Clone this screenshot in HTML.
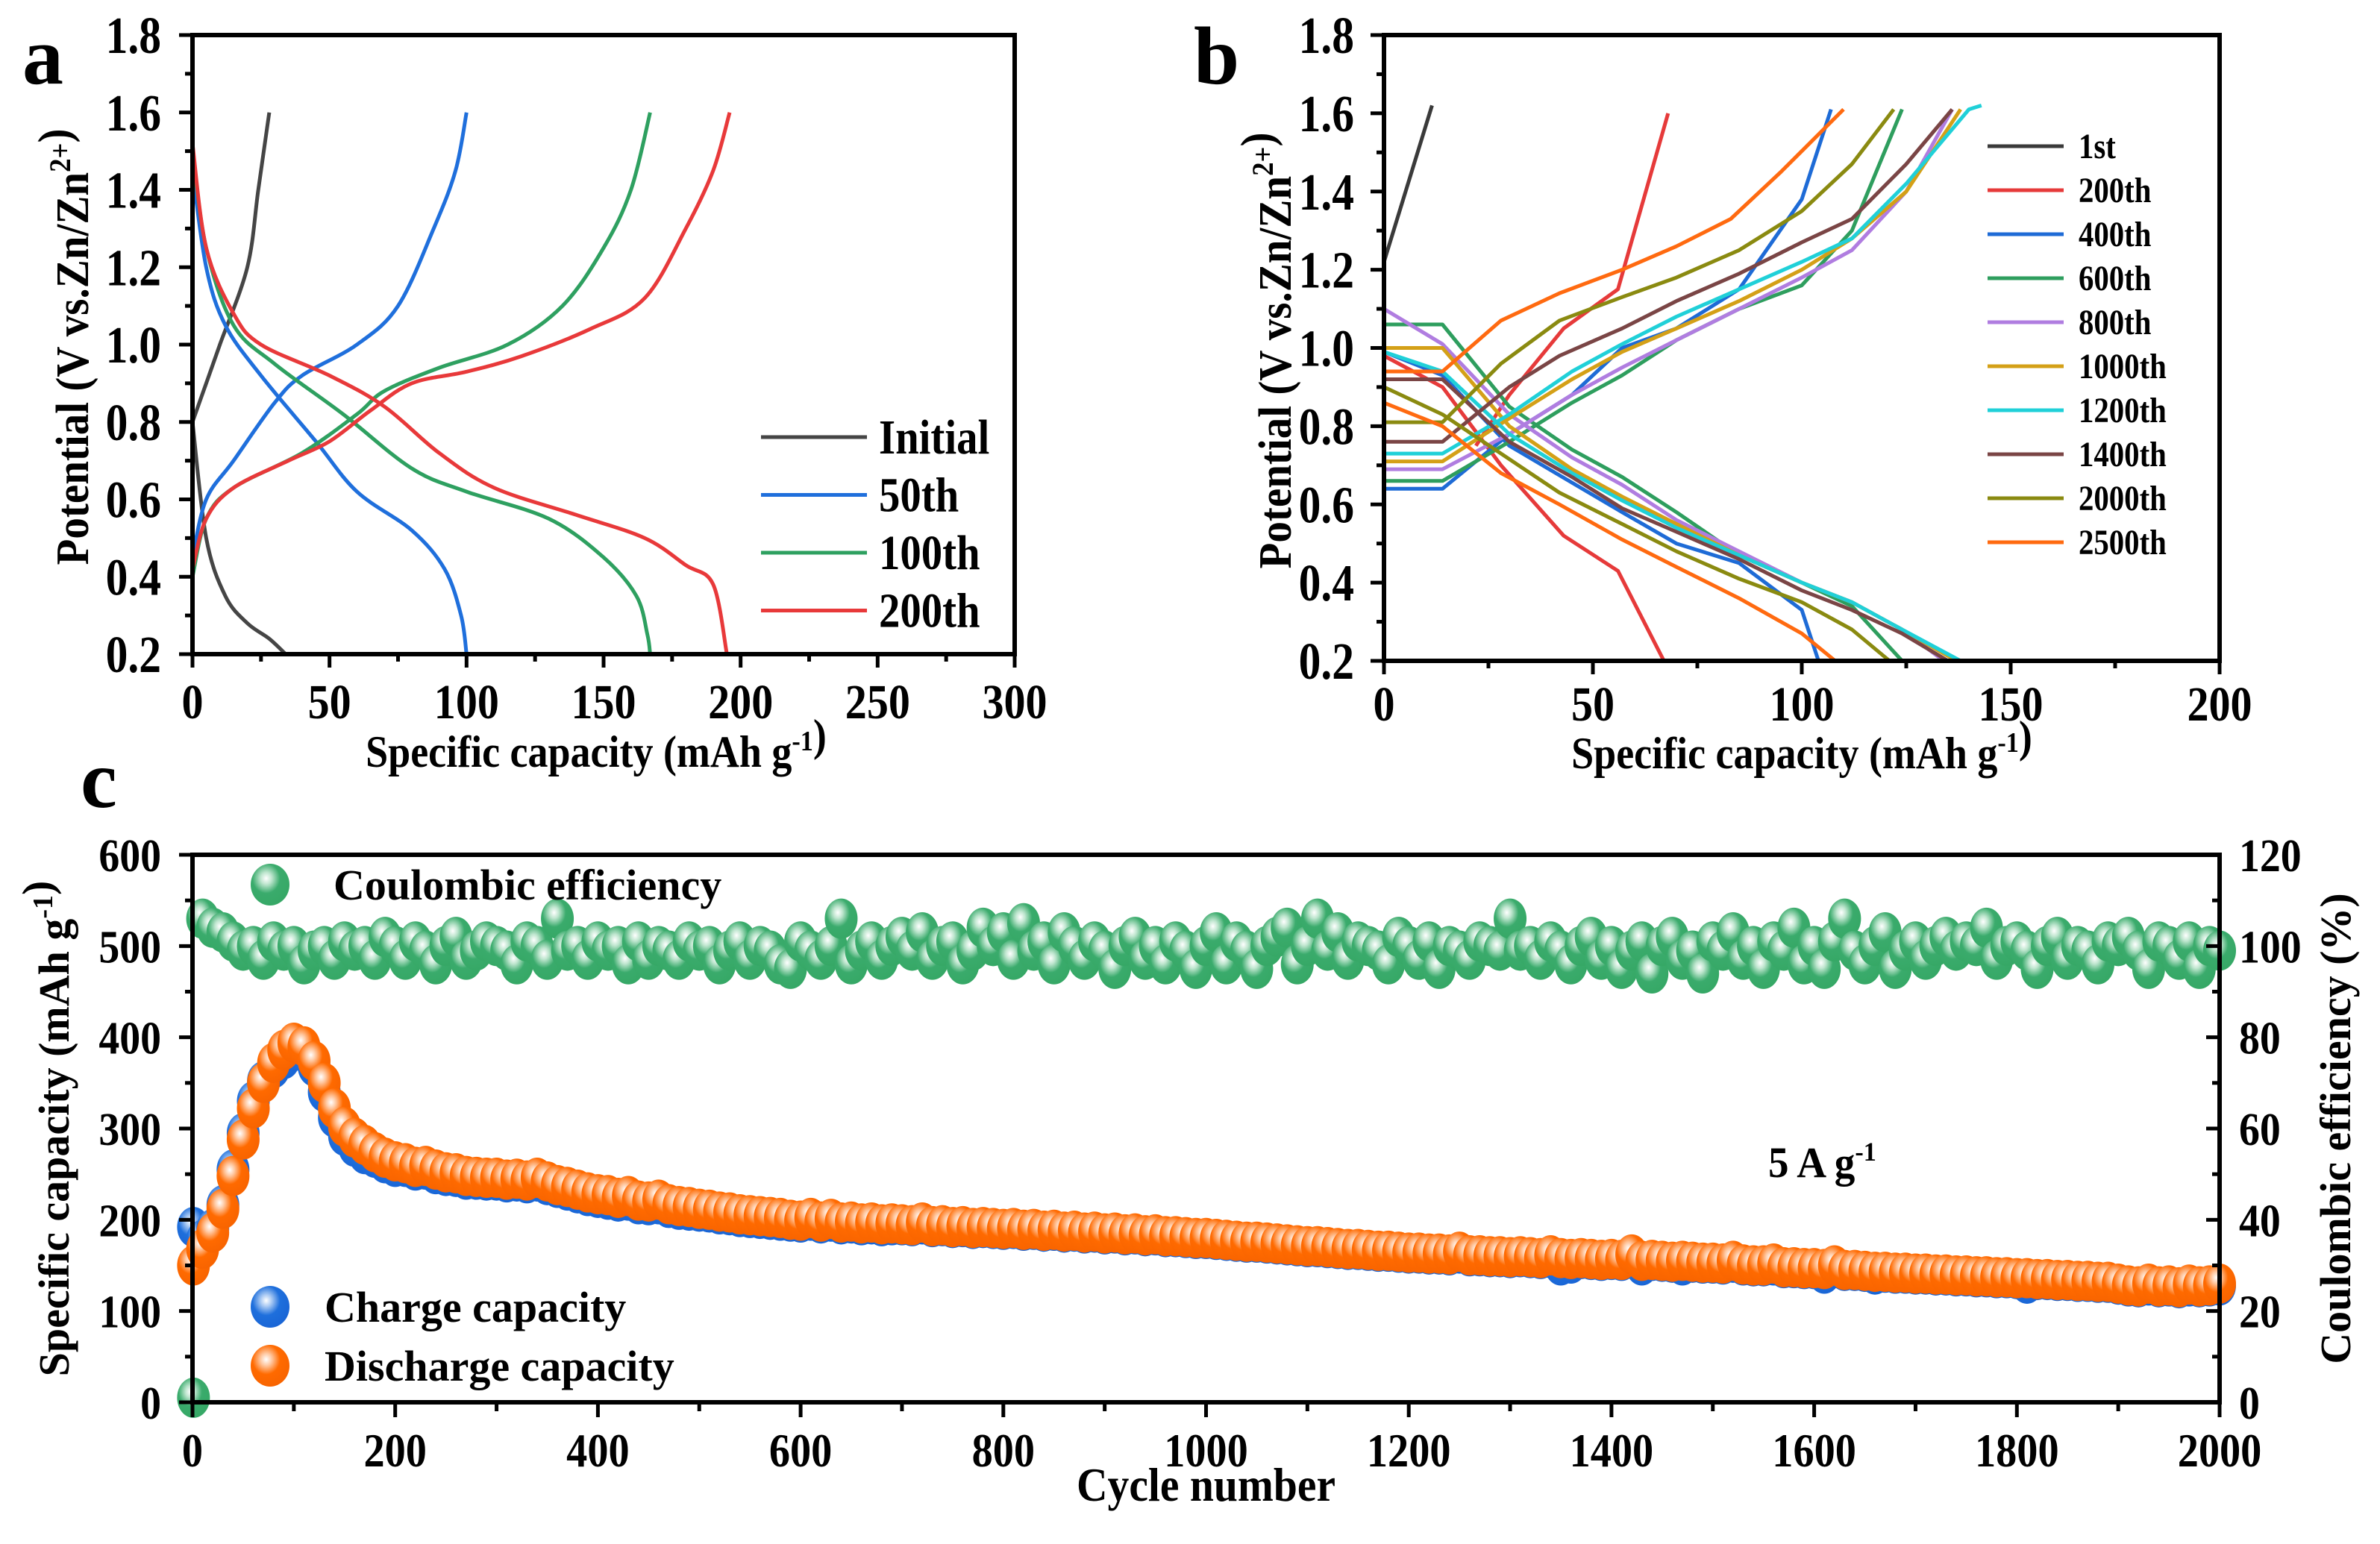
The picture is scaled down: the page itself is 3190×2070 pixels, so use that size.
<!DOCTYPE html>
<html><head><meta charset="utf-8"><style>
html,body{margin:0;padding:0;background:#fff;}
svg{display:block;}
text{font-family:"Liberation Serif",serif;font-weight:bold;fill:#000;}
</style></head><body>
<svg id="fig" width="3190" height="2070" viewBox="0 0 3190 2070" xmlns="http://www.w3.org/2000/svg">
<defs>
<radialGradient id="gG" cx="0.4" cy="0.35" r="0.65"><stop offset="0" stop-color="#ffffff"/><stop offset="0.22" stop-color="#bfe6cf"/><stop offset="0.55" stop-color="#3aab6c"/><stop offset="1" stop-color="#36a866"/></radialGradient>
<radialGradient id="gB" cx="0.4" cy="0.35" r="0.65"><stop offset="0" stop-color="#ffffff"/><stop offset="0.22" stop-color="#a9c9f3"/><stop offset="0.55" stop-color="#1e6fdc"/><stop offset="1" stop-color="#1a66d6"/></radialGradient>
<radialGradient id="gO" cx="0.4" cy="0.35" r="0.65"><stop offset="0" stop-color="#ffffff"/><stop offset="0.22" stop-color="#ffc9a3"/><stop offset="0.55" stop-color="#ff6a00"/><stop offset="1" stop-color="#f86400"/></radialGradient>
</defs>
</svg>
<script>
// ---------- Panel a data ----------
const aSeries = ["Initial","50th","100th","200th"];
const aColors = ["#454545","#1f6fdc","#2ea060","#e8393a"];
const aChargeCap = [
 [0,5,10,20,24,28],
 [0,5,15,30,40,60,75,88,96,100],
 [0,5,15,40,60,70,90,115,135,150,160,167],
 [0,5,15,35,50,65,80,100,120,145,165,180,190,196]];
const aChargeV = [
 [0.8,0.9,1.0,1.2,1.4,1.6],
 [0.45,0.6,0.7,0.85,0.92,1.0,1.1,1.3,1.45,1.6],
 [0.4,0.55,0.63,0.72,0.82,0.88,0.94,1.0,1.1,1.25,1.4,1.6],
 [0.42,0.55,0.63,0.7,0.75,0.83,0.9,0.93,0.97,1.04,1.12,1.3,1.45,1.6]];
const aDisCap = [
 [0,5,12,20,28,34],
 [0,5,12,25,45,60,80,92,98,100],
 [0,5,15,30,55,80,100,130,150,162,166,167],
 [0,5,15,25,50,70,90,110,140,165,180,190,195]];
const aDisV = [
 [0.8,0.5,0.35,0.28,0.24,0.2],
 [1.45,1.2,1.05,0.92,0.75,0.62,0.52,0.42,0.3,0.2],
 [1.5,1.25,1.05,0.95,0.82,0.68,0.62,0.55,0.45,0.35,0.25,0.2],
 [1.52,1.25,1.08,1.0,0.92,0.84,0.72,0.63,0.56,0.5,0.43,0.38,0.2]];
const aXTicks = [0,50,100,150,200,250,300];
const aYTicks = [0.2,0.4,0.6,0.8,1.0,1.2,1.4,1.6,1.8];

// ---------- Panel b data ----------
const bSeries = ["1st","200th","400th","600th","800th","1000th","1200th","1400th","2000th","2500th"];
const bColors = ["#3a3a3a","#e63a3a","#1e6bd6","#2e9e5e","#b07de0","#d4a017","#20d0d8","#7a4545","#8a8a10","#ff6a10"];
const bChargeCap = [
 [0,11.5],
 [22,30,43,56,68],
 [0,14,30,45,57,70,85,100,107],
 [0,14,30,45,57,70,85,100,112,124],
 [0,14,30,45,57,70,85,100,112,125,136],
 [0,14,30,45,57,70,85,100,112,125,138],
 [0,14,30,45,57,70,85,100,112,125,140,143],
 [0,14,30,42,57,70,85,100,112,125,136],
 [0,14,28,42,57,70,85,100,112,122],
 [0,14,28,42,57,70,83,95,110]];
const bChargeV = [
 [1.22,1.62],
 [0.75,0.88,1.05,1.15,1.6],
 [0.64,0.64,0.78,0.88,1.0,1.05,1.15,1.38,1.61],
 [0.66,0.66,0.76,0.86,0.93,1.02,1.1,1.16,1.3,1.61],
 [0.69,0.69,0.78,0.88,0.95,1.02,1.1,1.18,1.25,1.4,1.61],
 [0.71,0.71,0.82,0.92,0.99,1.05,1.12,1.2,1.28,1.4,1.61],
 [0.73,0.73,0.83,0.94,1.01,1.08,1.15,1.22,1.28,1.42,1.61,1.62],
 [0.76,0.76,0.9,0.98,1.05,1.12,1.19,1.27,1.33,1.47,1.61],
 [0.81,0.81,0.96,1.07,1.13,1.18,1.25,1.35,1.47,1.61],
 [0.94,0.94,1.07,1.14,1.2,1.26,1.33,1.45,1.61]];
const bDisCap = [
 [],
 [0,14,28,43,56,67],
 [0,14,30,57,70,85,100,104],
 [0,14,30,45,57,70,85,100,112,124],
 [0,14,30,45,57,70,85,100,112,124,134],
 [0,14,30,45,57,70,85,100,112,124,137],
 [0,14,30,45,57,70,85,100,112,124,138],
 [0,14,30,45,57,70,85,100,112,124,135],
 [0,14,28,42,57,70,85,100,112,121],
 [0,14,28,42,57,70,85,100,108]];
const bDisV = [
 [],
 [0.98,0.9,0.7,0.52,0.43,0.2],
 [0.99,0.93,0.75,0.58,0.5,0.45,0.33,0.2],
 [1.06,1.06,0.85,0.74,0.67,0.58,0.47,0.4,0.34,0.2],
 [1.1,1.01,0.83,0.72,0.65,0.56,0.48,0.4,0.35,0.28,0.2],
 [1.0,1.0,0.8,0.69,0.62,0.55,0.47,0.4,0.35,0.28,0.2],
 [0.99,0.94,0.78,0.68,0.61,0.54,0.47,0.4,0.35,0.28,0.2],
 [0.92,0.92,0.76,0.67,0.59,0.53,0.46,0.38,0.33,0.27,0.2],
 [0.9,0.83,0.73,0.63,0.55,0.48,0.41,0.35,0.28,0.2],
 [0.86,0.8,0.68,0.6,0.51,0.44,0.36,0.27,0.2]];
const bXTicks = [0,50,100,150,200];
const bYTicks = [0.2,0.4,0.6,0.8,1.0,1.2,1.4,1.6,1.8];

// ---------- Panel c data (sampled every 10 cycles) ----------
const cDischarge = [150,168,186,212,248,288,322,350,372,386,
 394,390,374,350,322,302,290,282,274,268,
 264,262,258,259,255,252,251,248,247,246,
 246,244,245,243,246,242,238,236,233,230,
 228,227,224,226,221,220,222,217,215,214,
 212,211,209,208,206,205,204,203,202,200,
 199,202,198,201,197,198,196,197,195,196,
 195,194,197,193,194,192,193,191,192,191,
 190,191,189,190,188,189,187,188,186,187,
 185,186,184,185,183,184,182,182,181,180,
 180,179,178,177,176,176,175,174,173,172,
 171,171,170,169,168,168,167,166,166,165,
 164,164,163,163,162,165,161,161,160,160,
 159,160,159,158,161,158,157,158,157,156,
 157,156,162,155,156,155,154,155,154,153,
 153,152,155,151,150,150,152,148,148,147,
 147,146,150,145,145,144,143,143,142,142,
 141,141,140,140,139,139,138,138,137,137,
 136,136,135,135,134,134,133,133,132,132,
 130,128,127,130,127,128,126,129,127,128,130];
const cCharge = [192,178,190,216,255,295,330,352,366,376,
 385,384,368,340,312,292,280,272,268,262,
 258,258,254,255,250,248,247,244,244,243,
 243,241,242,240,242,238,235,232,229,226,
 224,222,220,221,217,216,217,213,211,210,
 209,208,206,205,203,202,201,200,199,198,
 197,199,196,198,195,196,194,195,193,194,
 194,193,195,192,193,191,192,190,191,190,
 189,190,188,189,187,188,186,187,185,186,
 184,185,183,184,182,183,181,181,180,179,
 179,178,177,176,175,175,174,173,172,171,
 170,170,169,168,167,167,166,165,165,164,
 163,163,162,162,161,163,160,160,159,159,
 158,159,158,157,158,150,152,157,156,155,
 156,155,158,150,155,154,153,150,153,152,
 152,151,153,150,149,149,150,147,147,146,
 146,141,147,144,144,143,140,142,141,141,
 140,140,139,139,138,138,137,137,136,136,
 135,130,134,134,133,133,132,132,131,131,
 129,127,126,128,126,127,125,127,126,127,128];
const cEfficiency = [1,106,104,103,101,99,100,97,101,99,
 100,96,99,100,97,101,99,100,97,102,
 100,97,101,99,96,100,102,97,99,101,
 100,99,96,101,100,97,106,99,100,97,
 101,99,100,96,101,97,100,99,97,101,
 99,100,96,99,101,97,100,99,96,95,
 101,99,97,100,106,96,99,101,97,100,
 102,99,103,97,100,101,96,99,104,100,
 103,97,105,99,101,96,103,100,97,101,
 99,95,100,102,97,100,96,101,99,95,
 100,103,96,101,99,95,100,102,104,96,
 100,106,99,103,97,101,100,99,96,102,
 100,97,101,95,100,99,97,101,100,99,
 106,99,100,97,101,99,96,100,102,97,
 100,95,99,101,94,100,102,97,99,94,
 101,99,103,97,100,95,101,99,104,96,
 100,95,101,106,99,96,100,103,95,99,
 101,97,100,102,99,101,100,104,97,100,
 101,99,95,100,102,97,100,99,96,101,
 100,102,99,95,101,100,97,101,95,100,99];
const cXTicks = [0,200,400,600,800,1000,1200,1400,1600,1800,2000];
const cYTicks = [0,100,200,300,400,500,600];
const cY2Ticks = [0,20,40,60,80,100,120];

// ---------- helpers ----------
const NS = "http://www.w3.org/2000/svg";
const svg = document.getElementById('fig');
function mk(tag, attrs, parent){ const e=document.createElementNS(NS,tag); for(const k in attrs) e.setAttribute(k,attrs[k]); (parent||svg).appendChild(e); return e; }
function ln(x1,y1,x2,y2,w,name){ const e=mk('line',{x1,y1,x2,y2,stroke:'#000','stroke-width':w});
 
 
 return e; }
function txt(x,y,str,size,anchor,sx,name,rot){
 const g=mk('g',{transform:`translate(${x},${y})`+(rot?` rotate(${rot})`:'')+` scale(${sx},1)`});
 const t=mk('text',{x:0,y:0,'font-size':size,'text-anchor':anchor},g);
 t.textContent=str;
 
 
 return t; }
function sup(t,str,size,shift){ const s=mk('tspan',{'font-size':size,dy:-shift},t); s.textContent=str; const r=mk('tspan',{'font-size':t.getAttribute('font-size'),dy:shift},t); r.textContent=''; return s; }
function smoothPath(p){ // Catmull-Rom to cubic bezier
 let d='M'+p[0][0].toFixed(1)+','+p[0][1].toFixed(1);
 for(let i=0;i<p.length-1;i++){
  const p0=p[i-1]||p[i], p1=p[i], p2=p[i+1], p3=p[i+2]||p2;
  const c1=[p1[0]+(p2[0]-p0[0])/6, p1[1]+(p2[1]-p0[1])/6];
  const c2=[p2[0]-(p3[0]-p1[0])/6, p2[1]-(p3[1]-p1[1])/6];
  d+=` C${c1[0].toFixed(1)},${c1[1].toFixed(1)} ${c2[0].toFixed(1)},${c2[1].toFixed(1)} ${p2[0].toFixed(1)},${p2[1].toFixed(1)}`;
 }
 return d; }
function frame(L,R,T,B,name){ const r=mk('rect',{x:L,y:T,width:R-L,height:B-T,fill:'none',stroke:'#000','stroke-width':6});
 
  }

// ---------- Panel a ----------
(function(){
 const L=258,R=1360,T=47,B=877;
 const X=v=>L+(v-0)/300*(R-L), Y=v=>B-(v-0.2)/1.6*(B-T);
 aSeries.forEach((s,i)=>{
  [[aChargeCap[i],aChargeV[i],'charge'],[aDisCap[i],aDisV[i],'discharge']].forEach(([cx,cy,kind])=>{
   const pts=cx.map((c,j)=>[X(c),Y(cy[j])]);
   const p=mk('path',{d:smoothPath(pts),fill:'none',stroke:aColors[i],'stroke-width':5,'stroke-linejoin':'round'});
   
   
  });
 });
 frame(L,R,T,B,'plot-frame-a');
 aXTicks.forEach((v,i)=>{ ln(X(v),B,X(v),B+18,5,'x-tick-a'); if(i<aXTicks.length-1) ln(X(v+25),B,X(v+25),B+10,5,'x-minor-tick-a');
  txt(X(v),963,String(v),66,'middle',0.88,'x-tick-label-a'); });
 aYTicks.forEach((v,i)=>{ ln(L-18,Y(v),L,Y(v),5,'y-tick-a'); if(i<aYTicks.length-1) ln(L-10,Y(v+0.1),L,Y(v+0.1),5,'y-minor-tick-a');
  txt(L-42,Y(v)+24,v.toFixed(1),70,'end',0.85,'y-tick-label-a'); });
 const xt=txt((L+R)/2-10,1028,'Specific capacity (mAh g',60,'middle',0.9,'x-axis-title-a');
 sup(xt,'-1',38,22); const tail=mk('tspan',{},xt); tail.textContent=')';
 const yt=txt(118,465,'Potential (V vs.Zn/Zn',62,'middle',0.92,'y-axis-title-a',-90);
 sup(yt,'2+',40,24); const t2=mk('tspan',{},yt); t2.textContent=')';
 txt(30,112,'a',110,'start',1,'panel-label-a');
 aSeries.forEach((s,i)=>{ const y=586+i*77.5;
  const l=mk('line',{x1:1020,y1:y,x2:1162,y2:y,stroke:aColors[i],'stroke-width':5});
  
  
  txt(1178,y+22,s,66,'start',0.86,'legend-label-a-'+s); });
})();

// ---------- Panel b ----------
(function(){
 const L=1855,R=2975,T=47,B=886;
 const X=v=>L+v/200*(R-L), Y=v=>B-(v-0.2)/1.6*(B-T);
 bSeries.forEach((s,i)=>{
  [[bChargeCap[i],bChargeV[i],'charge'],[bDisCap[i],bDisV[i],'discharge']].forEach(([cx,cy,kind])=>{
   if(!cx.length) return;
   const pts=cx.map((c,j)=>X(c).toFixed(1)+','+Y(cy[j]).toFixed(1)).join(' ');
   const p=mk('polyline',{points:pts,fill:'none',stroke:bColors[i],'stroke-width':5,'stroke-linejoin':'round'});
   
   
  });
 });
 frame(L,R,T,B,'plot-frame-b');
 bXTicks.forEach((v,i)=>{ ln(X(v),B,X(v),B+18,5,'x-tick-b'); if(i<bXTicks.length-1) ln(X(v+25),B,X(v+25),B+10,5,'x-minor-tick-b');
  txt(X(v),966,String(v),66,'middle',0.88,'x-tick-label-b'); });
 bYTicks.forEach((v,i)=>{ ln(L-18,Y(v),L,Y(v),5,'y-tick-b'); if(i<bYTicks.length-1) ln(L-10,Y(v+0.1),L,Y(v+0.1),5,'y-minor-tick-b');
  txt(L-40,Y(v)+24,v.toFixed(1),70,'end',0.85,'y-tick-label-b'); });
 const xt=txt((L+R)/2,1030,'Specific capacity (mAh g',60,'middle',0.9,'x-axis-title-b');
 sup(xt,'-1',38,22); const tail=mk('tspan',{},xt); tail.textContent=')';
 const yt=txt(1730,470,'Potential (V vs.Zn/Zn',62,'middle',0.92,'y-axis-title-b',-90);
 sup(yt,'2+',40,24); const t2=mk('tspan',{},yt); t2.textContent=')';
 txt(1600,112,'b',110,'start',1,'panel-label-b');
 bSeries.forEach((s,i)=>{ const y=196+i*59;
  const l=mk('line',{x1:2664,y1:y,x2:2766,y2:y,stroke:bColors[i],'stroke-width':5});
  
  
  txt(2786,y+16,s,48,'start',0.85,'legend-label-b-'+s); });
})();

// ---------- Panel c ----------
(function(){
 const L=258,R=2975,T=1146,B=1880;
 const X=v=>L+v/2000*(R-L), Y=v=>B-v/600*(B-T), Y2=v=>B-v/120*(B-T);
 const cyc=i=>i===0?1:i*10;
 const dot=(cx,cy,rx,ry,grad,name)=>{ const c=mk('ellipse',{cx,cy,rx,ry,fill:'url(#'+grad+')'});
  
   };
 cEfficiency.forEach((v,i)=>dot(X(cyc(i)),Y2(v),22,27,'gG','ce-point'));
 cCharge.forEach((v,i)=>dot(X(cyc(i)),Y(v),22,27,'gB','charge-point'));
 cDischarge.forEach((v,i)=>dot(X(cyc(i)),Y(v),22,27,'gO','discharge-point'));
 frame(L,R,T,B,'plot-frame-c');
 cXTicks.forEach((v,i)=>{ ln(X(v),B,X(v),B+20,5,'x-tick-c'); if(i<cXTicks.length-1) ln(X(v+100),B,X(v+100),B+12,5,'x-minor-tick-c');
  txt(X(v),1966,String(v),64,'middle',0.88,'x-tick-label-c'); });
 cYTicks.forEach((v,i)=>{ ln(L-18,Y(v),L,Y(v),5,'y-tick-c'); if(i<cYTicks.length-1) ln(L-10,Y(v+50),L,Y(v+50),5,'y-minor-tick-c');
  txt(L-42,Y(v)+22,String(v),62,'end',0.9,'y-tick-label-c'); });
 cY2Ticks.forEach((v,i)=>{ ln(R-18,Y2(v),R,Y2(v),5,'y2-tick-c'); if(i<cY2Ticks.length-1) ln(R-10,Y2(v+10),R,Y2(v+10),5,'y2-minor-tick-c');
  txt(R+26,Y2(v)+22,String(v),62,'start',0.9,'y2-tick-label-c'); });
 txt((L+R)/2,2012,'Cycle number',64,'middle',0.9,'x-axis-title-c');
 const yt=txt(92,(T+B)/2,'Specific capacity (mAh g',58,'middle',1,'y-axis-title-c',-90);
 sup(yt,'-1',38,22); const t2=mk('tspan',{},yt); t2.textContent=')';
 txt(3150,(T+B)/2,'Coulombic efficiency (%)',58,'middle',1,'y2-axis-title-c',-90);
 txt(108,1082,'c',110,'start',1,'panel-label-c');
 dot(362,1186,26,28,'gG','legend-marker-ce');
 txt(447,1206,'Coulombic efficiency',58,'start',1,'legend-label-ce');
 dot(362,1752,26,28,'gB','legend-marker-charge');
 txt(435,1772,'Charge capacity',58,'start',1,'legend-label-charge');
 dot(362,1831,26,28,'gO','legend-marker-discharge');
 txt(435,1851,'Discharge capacity',58,'start',1,'legend-label-discharge');
 const ct=txt(2370,1578,'5 A g',58,'start',0.95,'current-density-label');
 sup(ct,'-1',36,22);
})();
</script>
</body></html>
